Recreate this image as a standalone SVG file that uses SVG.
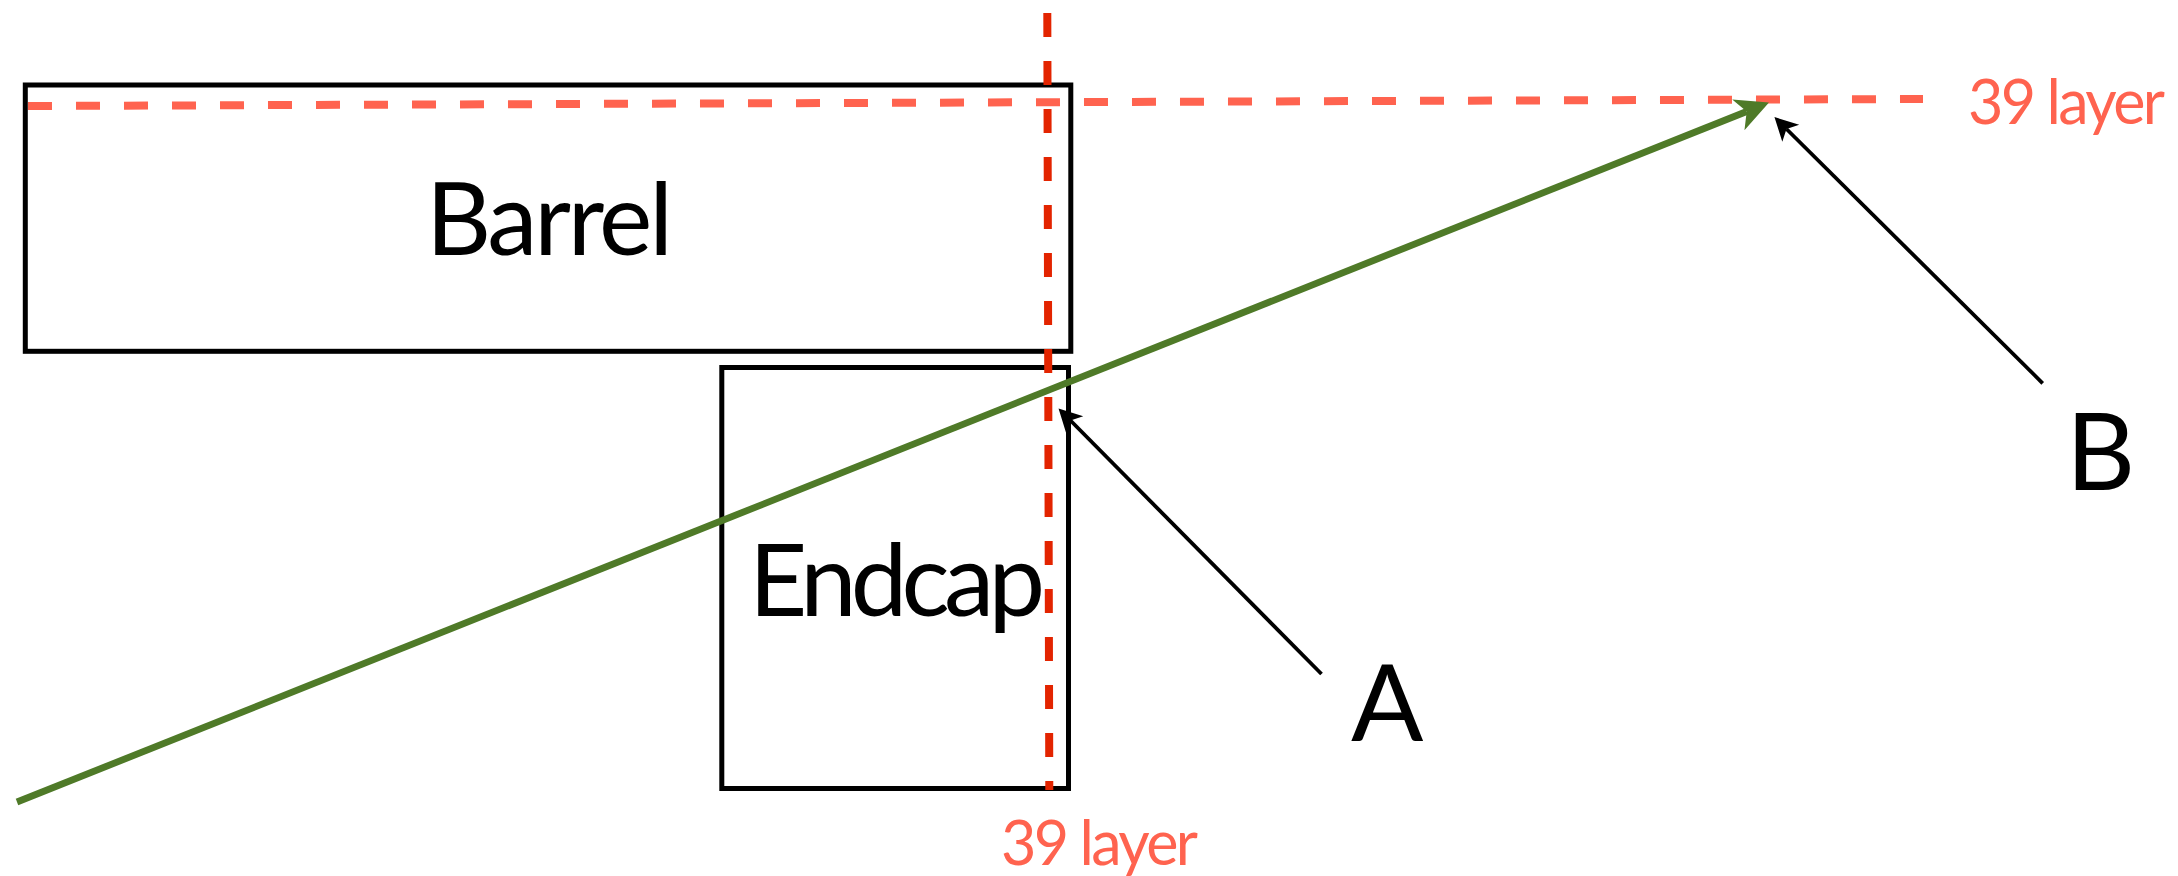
<svg xmlns="http://www.w3.org/2000/svg" width="2178" height="876" viewBox="0 0 2178 876">
<style>
.box{fill:none;stroke:#000;stroke-width:5}
.lbl{font-family:Lato,"Open Sans","Liberation Sans",sans-serif;fill:#000}
.red{font-family:Lato,"Open Sans","Liberation Sans",sans-serif;fill:#FF634F;font-size:61px}
.dashL{stroke:#FF634F;stroke-width:8;stroke-dasharray:24 24;fill:none}
.dashD{stroke:#E32400;stroke-width:8;stroke-dasharray:24 24;fill:none}
.ptr{stroke:#000;stroke-width:3.8;fill:none}
.ray{stroke:#4F7A28;stroke-width:6.8;fill:none}
</style>
<defs>
<marker id="hb" markerUnits="userSpaceOnUse" viewBox="0 -13 24 26" markerWidth="24" markerHeight="26" refX="6" refY="0" orient="auto" overflow="visible">
<path d="M0,-12 L23,0 L0,12 L6,0 Z" fill="#000"/>
</marker>
<marker id="hg" markerUnits="userSpaceOnUse" viewBox="0 -17 34 34" markerWidth="34" markerHeight="34" refX="9" refY="0" orient="auto" overflow="visible">
<path d="M0,-16.5 L33,0 L0,16.5 L9,0 Z" fill="#4F7A28"/>
</marker>
</defs>
<g id="barrel">
<rect class="box" x="25.3" y="85" width="1045.5" height="266.3"/>
<text class="lbl" x="426" y="255" font-size="101" textLength="247">Barrel</text>
</g>
<g id="endcap">
<rect class="box" x="721.8" y="367.5" width="346.7" height="421"/>
<text class="lbl" x="749" y="616" font-size="101" textLength="296">Endcap</text>
</g>
<g id="layer-h">
<line class="dashL" x1="28" y1="106" x2="1923" y2="99"/>
<text class="red" x="1968" y="124" textLength="197">39 layer</text>
</g>
<g id="layer-v">
<line class="dashD" x1="1047.3" y1="13" x2="1049.3" y2="790"/>
<text class="red" x="1001" y="865" textLength="197">39 layer</text>
</g>
<g id="labelA">
<text class="lbl" x="1351" y="740.7" font-size="107">A</text>
</g>
<g id="labelB">
<text class="lbl" x="2066" y="490" font-size="107">B</text>
</g>
<g id="connectors">
<line class="ray" x1="17" y1="802" x2="1746.7" y2="111.5" marker-end="url(#hg)"/>
<line class="ptr" x1="1321.5" y1="674" x2="1070.5" y2="420.5" marker-end="url(#hb)"/>
<line class="ptr" x1="2042.7" y1="383.3" x2="1786.5" y2="129" marker-end="url(#hb)"/>
</g>
</svg>
